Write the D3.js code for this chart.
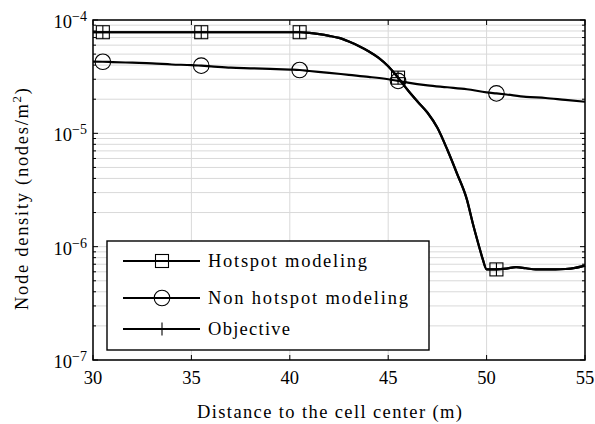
<!DOCTYPE html>
<html lang="en">
<head>
    <meta charset="UTF-8">
    <title>Node density</title>
    <script src="https://d3js.org/d3.v7.min.js"></script>
    <style>
        body { margin: 0; background: #fff; }
        .grid line { stroke: #d9d9d9; stroke-width: 1; }
        .curve { fill: none; stroke: #000; stroke-width: 2.2; stroke-linejoin: round; }
        .mark { fill: none; stroke: #000; stroke-width: 1.1; }
    </style>
</head>
<body>
    <svg width="595" height="424"></svg>
    <script>
        // Data
        const hotspotX = [30, 30.5, 31, 32, 33, 34, 35, 35.5, 36, 37, 38, 39, 40, 40.5, 41, 41.5, 42, 42.5, 43, 43.5,
                          44, 44.5, 45, 45.5, 46, 46.5, 47, 47.5, 48, 48.5, 49, 49.3, 49.6, 49.8, 50, 50.5, 51, 51.5,
                          52, 52.5, 53, 53.5, 54, 54.5, 55];
        const hotspotY = [7.8e-5, 7.8e-5, 7.8e-5, 7.8e-5, 7.8e-5, 7.8e-5, 7.8e-5, 7.8e-5, 7.8e-5, 7.8e-5, 7.8e-5, 7.8e-5, 7.8e-5, 7.8e-5, 7.7e-5, 7.5e-5, 7.25e-5, 6.95e-5, 6.45e-5, 5.9e-5,
                          5.3e-5, 4.65e-5, 3.9e-5, 3.1e-5, 2.4e-5, 1.9e-5, 1.52e-5, 1.12e-5, 7.2e-6, 4.4e-6, 2.6e-6, 1.6e-6, 1.03e-6, 7.8e-7, 6.3e-7, 6.3e-7, 6.4e-7, 6.6e-7,
                          6.45e-7, 6.3e-7, 6.3e-7, 6.3e-7, 6.35e-7, 6.5e-7, 6.8e-7];
        // Objective coincides with the hotspot curve in the picture
        const objectiveX = hotspotX;
        const objectiveY = hotspotY.slice();

        const nonHotspotX = [30, 30.5, 31, 32, 33, 34, 35, 35.5, 36, 37, 38, 39, 40, 40.5, 41, 42, 43, 44, 45, 45.5,
                             46, 47, 48, 49, 50, 50.5, 51, 52, 53, 54, 55];
        const nonHotspotY = [4.3e-5, 4.28e-5, 4.25e-5, 4.2e-5, 4.15e-5, 4.05e-5, 4.0e-5, 3.95e-5, 3.9e-5, 3.8e-5, 3.75e-5, 3.7e-5, 3.65e-5, 3.62e-5, 3.55e-5, 3.42e-5, 3.28e-5, 3.15e-5, 3.0e-5, 2.9e-5,
                             2.8e-5, 2.65e-5, 2.55e-5, 2.45e-5, 2.3e-5, 2.25e-5, 2.2e-5, 2.1e-5, 2.05e-5, 1.97e-5, 1.9e-5];

        const markerX = [30.5, 35.5, 40.5, 45.5, 50.5];
        const xTicks = [30, 35, 40, 45, 50, 55];
        const yDecades = [-7, -6, -5, -4];
        const legendLabels = ["Hotspot modeling", "Non hotspot modeling", "Objective"];

        const FONT = "Liberation Serif";
        const margin = {top: 20, right: 10, bottom: 64, left: 93},
              width = 595 - margin.left - margin.right,
              height = 424 - margin.top - margin.bottom;

        const svg = d3.select("svg");
        const g = svg.append("g").attr("transform", `translate(${margin.left},${margin.top})`);

        const x = d3.scaleLinear().domain([30, 55]).range([0, width]);
        const y = d3.scaleLog().domain([1e-7, 1e-4]).range([height, 0]);

        // minor positions 1..9 x 10^n
        const minorVals = [];
        for (let e = -7; e < -4; e++) {
            for (let k = 1; k < 10; k++) minorVals.push(k * Math.pow(10, e));
        }
        minorVals.push(1e-4);

        // grid
        const grid = g.append("g").attr("class", "grid");
        grid.selectAll("line.h").data(minorVals).enter().append("line")
            .attr("class", "h")
            .attr("x1", 0).attr("x2", width)
            .attr("y1", d => y(d)).attr("y2", d => y(d));
        grid.selectAll("line.v").data(xTicks).enter().append("line")
            .attr("class", "v")
            .attr("x1", d => x(d)).attr("x2", d => x(d))
            .attr("y1", 0).attr("y2", height);

        // curves
        const line = d3.line().curve(d3.curveMonotoneX).x(d => x(d[0])).y(d => y(d[1]));
        const series = [
            {xs: hotspotX, ys: hotspotY, marker: "square"},
            {xs: nonHotspotX, ys: nonHotspotY, marker: "circle"},
            {xs: objectiveX, ys: objectiveY, marker: "plus"}
        ];

        function drawMarker(sel, type, cx, cy) {
            if (type === "square") {
                sel.append("rect").attr("class", "mark")
                   .attr("x", cx - 6.5).attr("y", cy - 6.5).attr("width", 13).attr("height", 13);
            } else if (type === "circle") {
                sel.append("circle").attr("class", "mark")
                   .attr("cx", cx).attr("cy", cy).attr("r", 7.8);
            } else {
                sel.append("line").attr("class", "mark")
                   .attr("x1", cx - 6.5).attr("x2", cx + 6.5).attr("y1", cy).attr("y2", cy);
                sel.append("line").attr("class", "mark")
                   .attr("x1", cx).attr("x2", cx).attr("y1", cy - 6.5).attr("y2", cy + 6.5);
            }
        }

        series.forEach(s => {
            const pts = s.xs.map((v, i) => [v, s.ys[i]]);
            g.append("path").datum(pts).attr("class", "curve").attr("d", line);
            pts.filter(p => markerX.includes(p[0])).forEach(p => {
                drawMarker(g, s.marker, x(p[0]), y(p[1]));
            });
        });

        // axes box and inward ticks
        const axes = g.append("g");
        const tickStyle = sel => sel.attr("stroke", "#000").attr("stroke-width", 1);
        const majorY = yDecades.map(e => Math.pow(10, e));
        const minorOnly = minorVals.filter(v => !majorY.some(m => Math.abs(m - v) / m < 1e-9));

        xTicks.forEach(t => {
            axes.append("line").call(tickStyle).attr("x1", x(t)).attr("x2", x(t)).attr("y1", height).attr("y2", height - 5);
            axes.append("line").call(tickStyle).attr("x1", x(t)).attr("x2", x(t)).attr("y1", 0).attr("y2", 5);
        });
        majorY.forEach(v => {
            axes.append("line").call(tickStyle).attr("x1", 0).attr("x2", 5).attr("y1", y(v)).attr("y2", y(v));
            axes.append("line").call(tickStyle).attr("x1", width).attr("x2", width - 5).attr("y1", y(v)).attr("y2", y(v));
        });
        minorOnly.forEach(v => {
            axes.append("line").call(tickStyle).attr("x1", 0).attr("x2", 3).attr("y1", y(v)).attr("y2", y(v));
            axes.append("line").call(tickStyle).attr("x1", width).attr("x2", width - 3).attr("y1", y(v)).attr("y2", y(v));
        });
        axes.append("rect")
            .attr("x", 0).attr("y", 0).attr("width", width).attr("height", height)
            .attr("fill", "none").attr("stroke", "#000").attr("stroke-width", 1.5);

        // tick labels
        g.selectAll("text.xt").data(xTicks).enter().append("text")
            .attr("class", "xt")
            .attr("font-family", FONT).attr("font-size", 18.5)
            .attr("x", d => x(d)).attr("y", height + 24)
            .attr("text-anchor", "middle")
            .text(d => d);

        yDecades.forEach(e => {
            const t = g.append("text")
                .attr("font-family", FONT).attr("font-size", 18.5)
                .attr("x", -6).attr("y", y(Math.pow(10, e)) + 8)
                .attr("text-anchor", "end");
            t.append("tspan").text("10");
            t.append("tspan").attr("dy", -7).attr("font-size", 14).text("\u2212" + Math.abs(e));
        });

        // axis titles
        svg.append("text")
            .attr("font-family", FONT).attr("font-size", 18.5)
            .attr("x", 197).attr("y", 418)
            .attr("textLength", 265).attr("lengthAdjust", "spacing")
            .text("Distance to the cell center (m)");

        const yl = svg.append("text")
            .attr("font-family", FONT).attr("font-size", 18.5)
            .attr("transform", "translate(28,310) rotate(-90)")
            .attr("textLength", 222).attr("lengthAdjust", "spacing");
        yl.append("tspan").text("Node density (nodes/m");
        yl.append("tspan").attr("dy", -7).attr("font-size", 13).text("2");
        yl.append("tspan").attr("dy", 7).text(")");

        // legend
        const lg = svg.append("g").attr("transform", "translate(107,241)");
        lg.append("rect").attr("width", 322).attr("height", 109)
          .attr("fill", "#fff").attr("stroke", "#000").attr("stroke-width", 1.4);
        const legendRows = [20, 57, 88];
        const legendWidths = [159, 200, 82];
        legendLabels.forEach((lab, i) => {
            const ry = legendRows[i];
            lg.append("line").attr("class", "curve").attr("x1", 16).attr("x2", 93).attr("y1", ry).attr("y2", ry);
            drawMarker(lg, series[i].marker, 55, ry);
            lg.selectAll(".mark").attr("stroke-width", 2);
            lg.append("text")
              .attr("font-family", FONT).attr("font-size", 18.5)
              .attr("x", 101).attr("y", ry + 6)
              .attr("textLength", legendWidths[i]).attr("lengthAdjust", "spacing")
              .text(lab);
        });
    </script>
</body>
</html>
